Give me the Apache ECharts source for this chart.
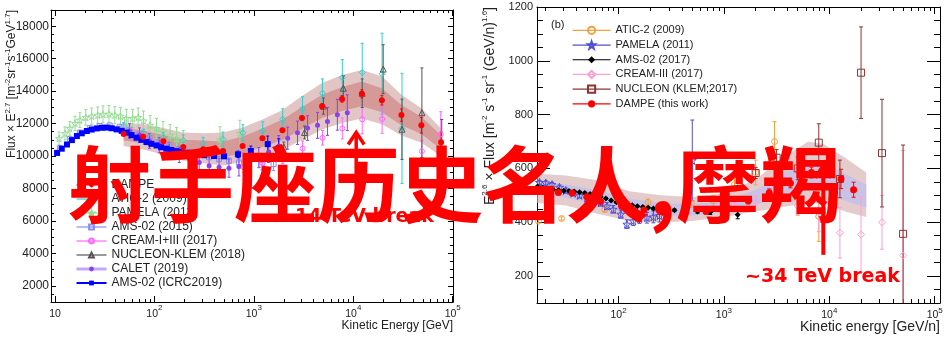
<!DOCTYPE html>
<html>
<head>
<meta charset="utf-8">
<script src="https://cdn.jsdelivr.net/npm/echarts@6/dist/echarts.min.js"></script>
<style>
html, body { margin: 0; padding: 0; background: #fff; }
#chart { width: 951px; height: 352px; }
</style>
</head>
<body>
<div id="chart"></div>
<script>
// ---------- panel (a): proton, Flux x E^2.7, energies in GeV ----------
const pDampeE = [49, 77, 123, 195, 310, 490, 770, 1220, 1940, 3050, 4850, 7710, 12200, 19400, 30500, 48400, 76400];
const pDampeF = [11350, 11180, 10910, 10560, 10420, 10310, 10620, 11100, 11590, 12340, 13060, 13520, 13830, 13440, 12520, 11890, 10850];
const pDampeErr = [40, 40, 40, 40, 50, 60, 70, 90, 110, 130, 160, 200, 250, 300, 380, 480, 620];
const pInnerHi = [11740, 11570, 11300, 11000, 10950, 10900, 11200, 11700, 12250, 13020, 13780, 14260, 14590, 14180, 13150, 12420, 11280];
const pInnerLo = [10950, 10790, 10530, 10150, 10020, 9900, 10180, 10560, 10970, 11660, 12350, 12770, 13070, 12700, 11900, 11350, 10420];
const pOuterHi = [12080, 11960, 11730, 11450, 11400, 11450, 11750, 12250, 12830, 13700, 14500, 15000, 15300, 14910, 13780, 12950, 11700];
const pOuterLo = [10610, 10400, 10090, 9730, 9560, 9420, 9640, 10000, 10380, 10980, 11630, 12030, 12310, 11960, 11270, 10820, 9980];

const pPamE = [11.0, 12.6, 14.1, 15.9, 17.8, 20.4, 23.4, 26.9, 30.4, 34.9, 40.0, 45.5, 52.2, 60.4, 68.7, 77.6, 90.5, 105, 122, 144, 167, 195, 457, 724];
const pPamF = [11080, 11390, 11700, 12010, 12210, 12380, 12460, 12520, 12570, 12590, 12520, 12460, 12320, 12320, 12380, 12170, 11900, 11700, 11490, 11280, 11080, 10870, 11000, 11400];
const pPamErr = [400, 400, 420, 440, 460, 480, 500, 500, 520, 520, 520, 540, 560, 560, 580, 600, 600, 620, 640, 660, 680, 700, 800, 800];

const pAticE = [49, 78, 123, 195, 309, 490, 776, 1230, 1950, 3090, 4900, 7760, 12300, 19500, 30900];
const pAticF = [11850, 11400, 11150, 10950, 10750, 11020, 11430, 11550, 12260, 12900, 13870, 14840, 15150, 15070, 11700];
const pAticErr = [200, 250, 300, 350, 400, 450, 500, 550, 650, 750, 880, 1100, 1800, 2500, 3400];

const pAms15E = [11.2, 14.1, 17.8, 22.4, 28.2, 35.5, 44.7, 56.2, 70.8, 89.1, 112, 141, 178, 224, 282, 355, 447, 562, 708, 891, 1200, 1580];
const pAms15F = [10500, 11050, 11450, 11720, 11850, 11880, 11800, 11620, 11380, 11120, 10880, 10650, 10430, 10250, 10080, 9920, 9800, 9700, 9600, 9480, 9470, 9500];
const pAms15Err = [30, 30, 30, 30, 30, 30, 30, 40, 40, 40, 50, 60, 70, 80, 100, 120, 150, 180, 220, 260, 320, 400];

const pAms19E = [10.5, 11.7, 13.2, 14.8, 16.6, 18.6, 20.9, 23.4, 26.3, 29.5, 33.1, 37.2, 41.7, 46.8, 52.5, 58.9, 66.1, 74.1, 83.2, 93.3, 105, 117, 132, 148, 166, 186, 209, 234, 263, 316, 398, 501, 692, 933, 1380, 1780];
const pAms19F = [10190, 10450, 10710, 10980, 11230, 11400, 11540, 11630, 11700, 11740, 11750, 11710, 11640, 11550, 11440, 11290, 11130, 11000, 10860, 10750, 10650, 10540, 10450, 10370, 10300, 10250, 10200, 10150, 10100, 10050, 10000, 9980, 10100, 10310, 10730, 10460];
const pAms19Err = [20, 20, 20, 20, 20, 20, 20, 20, 20, 20, 20, 20, 20, 20, 20, 20, 20, 20, 20, 20, 20, 20, 25, 25, 30, 30, 35, 40, 50, 60, 80, 120, 200, 300, 500, 600];

const pCaletE = [56.2, 70.8, 89.1, 112, 141, 178, 224, 282, 355, 447, 562, 708, 891, 1120, 1410, 1780, 2190, 2750, 3470, 4370, 5500, 6920, 8710];
const pCaletF = [11540, 11280, 10920, 10660, 10350, 10100, 9850, 9600, 9400, 9300, 9250, 9350, 9500, 9900, 10250, 10600, 11100, 11430, 11720, 11890, 12130, 12540, 12670];
const pCaletErr = [450, 450, 450, 470, 500, 500, 500, 500, 520, 540, 560, 580, 600, 620, 650, 660, 680, 720, 760, 800, 860, 950, 1100];

const pCreamE = [794, 1230, 1950, 3090, 4900, 7760, 12300, 19500, 49000, 75900];
const pCreamF = [9300, 9550, 9950, 10460, 11120, 11700, 12260, 12280, 10290, 11330];
const pCreamErr = [300, 350, 420, 470, 450, 650, 900, 880, 680, 1400];

const pNucE = [2000, 3240, 5010, 7940, 12300, 20000, 30900, 49000, 77600];
const pNucF = [10560, 11450, 13080, 14180, 13870, 15360, 11650, 12670, 10450];
const pNucErr = [300, 400, 500, 780, 880, 1500, 1860, 2760, 1800];

const pBreakE = 10700;
const pArrowF = [7300, 11450];

// ---------- panel (b): helium, E^2.6 x Flux, energies in GeV/n ----------
const heAmsE = [17.0, 19.1, 21.4, 24.0, 26.9, 30.2, 33.9, 38.0, 42.7, 47.9, 53.7, 60.3, 67.6, 75.9, 85.1, 95.5, 107, 120, 135, 151, 170, 191, 214, 240, 269, 339, 427, 562, 741, 1000, 1350];
const heAmsF = [533, 528, 524, 521, 519, 517, 516, 514, 512, 509, 505, 500, 495, 488, 481, 474, 469, 466, 463, 460, 457, 454, 451, 448, 447, 445, 442, 440, 437, 434, 428];
const heAmsErr = [3, 3, 3, 3, 3, 3, 3, 3, 3, 3, 3, 3, 3, 3, 3, 3, 3, 3, 3, 3, 3, 3, 3, 3, 3, 4, 5, 6, 8, 10, 15];

const heDampeE = [26.9, 36.3, 50.1, 67.6, 107, 174, 275, 427, 676, 1070, 1700, 2690, 4270, 6760, 9330, 12900, 17000];
const heDampeF = [511, 509, 495, 477, 460, 446, 440, 436, 440, 455, 480, 510, 545, 585, 600, 561, 521];
const heDampeErr = [4, 4, 4, 5, 5, 6, 7, 8, 9, 10, 12, 14, 17, 20, 30, 36, 28];

const heAticE = [17.4, 28.8, 47.9, 74.1, 120, 191, 295, 490, 794, 1260, 2000, 3020, 5010, 7940];
const heAticF = [404, 414, 430, 447, 463, 474, 453, 472, 480, 540, 585, 700, 509, 422];
const heAticErr = [6, 6, 7, 8, 10, 12, 14, 16, 20, 26, 46, 74, 83, 93];

const hePamE = [17.8, 20.4, 23.4, 27.5, 31.6, 37.2, 42.7, 50.1, 57.5, 67.6, 77.6, 89.1, 105, 120, 138, 158, 186, 214, 245, 282, 501];
const hePamF = [548, 546, 540, 530, 518, 508, 500, 490, 480, 472, 460, 448, 430, 393, 405, 414, 417, 420, 425, 430, 630];
const hePamErr = [8, 8, 8, 8, 9, 9, 10, 10, 11, 12, 13, 14, 15, 16, 17, 18, 20, 22, 24, 26, 150];

const heCreamE = [1260, 2000, 3160, 5010, 7940, 12600, 20000, 31600, 50100];
const heCreamF = [470, 480, 474, 460, 420, 361, 354, 400, 277];
const heCreamErr = [15, 18, 22, 30, 55, 94, 140, 100, 390];

const heNucE = [2000, 3160, 5010, 7940, 12600, 20000, 31600, 50100];
const heNucF = [583, 640, 600, 696, 561, 956, 657, 357];
const heNucErr = [20, 30, 42, 70, 70, 170, 200, 330];

const heBandE = [17.0, 31.6, 63.1, 126, 251, 501, 1000, 2000, 3980, 6310, 8910, 14100, 22400];
const heOuterHi = [580, 574, 556, 515, 500, 494, 507, 560, 650, 700, 690, 640, 585];
const heOuterLo = [472, 462, 432, 405, 399, 405, 420, 440, 460, 470, 470, 440, 420];
const heInnerHi = [548, 540, 520, 488, 472, 468, 480, 520, 590, 625, 620, 580, 540];
const heInnerLo = [505, 492, 465, 430, 422, 425, 440, 465, 500, 520, 515, 480, 455];

const heBreakE = 8770;
const heArrowF = [279, 610];

// tick labels (x in decades, log10 of energy)
const pXMajor = [1, 2, 3, 4, 5];
const heXMajor = [2, 3, 4, 5];
const pYMajor = [2000, 4000, 6000, 8000, 10000, 12000, 14000, 16000, 18000];
const heYMajor = [200, 400, 600, 800, 1000, 1200];

const pLegend = {
  p_dampe: 'DAMPE', p_atic: 'ATIC-2 (2009)', p_pam: 'PAMELA (2011)', p_ams15: 'AMS-02 (2015)',
  p_cream: 'CREAM-I+III (2017)', p_nuc: 'NUCLEON-KLEM (2018)', p_calet: 'CALET (2019)', p_ams19: 'AMS-02 (ICRC2019)'
};
const heLegend = {
  he_atic: 'ATIC-2 (2009)', he_pam: 'PAMELA (2011)', he_ams: 'AMS-02 (2017)',
  he_cream: 'CREAM-III (2017)', he_nuc: 'NUCLEON (KLEM;2017)', he_dampe: 'DAMPE (this work)'
};

const FONT = 'Liberation Sans';
const lg = Math.log10;
const STAR = 'path://M0,-10L2.35,-3.24L9.51,-3.09L3.8,1.24L5.88,8.09L0,4L-5.88,8.09L-3.8,1.24L-9.51,-3.09L-2.35,-3.24Z';
const HOLLOW = 'rgba(0,0,0,0)';

function logMinors(lo, hi) {
  const out = [];
  for (let d = 0; d <= 5; d++) {
    for (let k = 2; k <= 9; k++) {
      const v = d + lg(k);
      if (v > lo && v < hi) out.push(v);
    }
  }
  return out;
}
function linMinors(lo, hi, step, major) {
  const out = [];
  for (let v = lo; v <= hi; v += step) if (v % major !== 0) out.push(v);
  return out;
}

function xAxes(grid, min, max, majors, majorLen, minorLen, label) {
  const minors = logMinors(min, max);
  const lineOn = { show: true, onZero: false, lineStyle: { color: '#000', width: 1 } };
  const lineOff = { show: false, onZero: false };
  const mk = (pos, line, ticks, len, lab) => ({
    type: 'value', gridIndex: grid, position: pos, min: min, max: max,
    axisLine: line, splitLine: { show: false },
    axisTick: { show: true, inside: true, length: len, customValues: ticks, lineStyle: { color: '#000', width: 1 } },
    axisLabel: lab || { show: false }
  });
  return [
    mk('bottom', lineOn, majors, majorLen, label),
    mk('bottom', lineOff, minors, minorLen),
    mk('top', lineOn, majors, majorLen),
    mk('top', lineOff, minors, minorLen)
  ];
}
function yAxes(grid, min, max, majors, minors, majorLen, minorLen, label) {
  const lineOn = { show: true, onZero: false, lineStyle: { color: '#000', width: 1 } };
  const lineOff = { show: false, onZero: false };
  const mk = (pos, line, ticks, len, lab) => ({
    type: 'value', gridIndex: grid, position: pos, min: min, max: max,
    axisLine: line, splitLine: { show: false },
    axisTick: { show: true, inside: true, length: len, customValues: ticks, lineStyle: { color: '#000', width: 1 } },
    axisLabel: lab || { show: false }
  });
  return [
    mk('left', lineOn, majors, majorLen, label),
    mk('left', lineOff, minors, minorLen),
    mk('right', lineOn, majors, majorLen),
    mk('right', lineOff, minors, minorLen)
  ];
}

function decadeLabel(v) {
  const n = Math.round(v);
  return n === 1 ? '10' : '10{s|' + n + '}';
}
function plainLabel(v) {
  return String(Math.round(v));
}

// markers: line series without a visible line, so legend gets line + symbol
function marks(id, grid, E, F, sym, size, color, open) {
  return {
    name: id, type: 'line', xAxisIndex: grid * 4, yAxisIndex: grid * 4,
    data: E.map((e, i) => [lg(e), F[i]]),
    symbol: sym, symbolSize: size, showSymbol: true, showAllSymbol: true,
    lineStyle: { width: 0, color: color },
    itemStyle: open ? { color: HOLLOW, borderColor: color, borderWidth: 1 } : { color: color, borderWidth: 0 },
    z: 3, silent: true, clip: true
  };
}
// vertical error bars with small caps
function bars(grid, E, F, Er, color, cap) {
  return {
    type: 'custom', xAxisIndex: grid * 4, yAxisIndex: grid * 4,
    data: E.map((e, i) => [lg(e), F[i] - Er[i], F[i] + Er[i]]),
    encode: { x: 0, y: [1, 2] },
    renderItem: function (params, api) {
      const lo = api.coord([api.value(0), api.value(1)]);
      const hi = api.coord([api.value(0), api.value(2)]);
      const st = { stroke: color, lineWidth: 1 };
      return {
        type: 'group', children: [
          { type: 'line', shape: { x1: lo[0], y1: lo[1], x2: hi[0], y2: hi[1] }, style: st },
          { type: 'line', shape: { x1: lo[0] - cap, y1: lo[1], x2: lo[0] + cap, y2: lo[1] }, style: st },
          { type: 'line', shape: { x1: hi[0] - cap, y1: hi[1], x2: hi[0] + cap, y2: hi[1] }, style: st }
        ]
      };
    },
    z: 2, silent: true, clip: true
  };
}
function band(grid, E, lo, hi, fill) {
  return {
    type: 'custom', xAxisIndex: grid * 4, yAxisIndex: grid * 4,
    data: [[lg(E[0]), lo[0]]],
    renderItem: function (params, api) {
      const top = E.map((e, i) => api.coord([lg(e), hi[i]]));
      const bot = E.map((e, i) => api.coord([lg(e), lo[i]])).reverse();
      return { type: 'polygon', shape: { points: top.concat(bot) }, style: { fill: fill } };
    },
    z: 1, silent: true, clip: true
  };
}
function arrow(grid, E, F, color, width, head) {
  return {
    type: 'custom', xAxisIndex: grid * 4, yAxisIndex: grid * 4,
    data: [[lg(E), F[1]]],
    renderItem: function (params, api) {
      const a = api.coord([lg(E), F[0]]);
      const b = api.coord([lg(E), F[1]]);
      const st = { stroke: color, lineWidth: width, fill: null };
      return {
        type: 'group', children: [
          { type: 'line', shape: { x1: a[0], y1: a[1], x2: b[0], y2: b[1] + 2 }, style: st },
          { type: 'polyline', shape: { points: [[b[0] - head, b[1] + head * 1.5], [b[0], b[1]], [b[0] + head, b[1] + head * 1.5]] }, style: st }
        ]
      };
    },
    z: 4, silent: true, clip: false
  };
}

const supRich = { s: { fontSize: 8, lineHeight: 8, verticalAlign: 'top', fontFamily: FONT, color: '#222' } };
const supFill = { s: { fontSize: 8, lineHeight: 8, verticalAlign: 'top', fontFamily: FONT, fill: '#222' } };

const chart = echarts.init(document.getElementById('chart'));

const option = {
  animation: false,
  grid: [
    { left: 51, top: 10, width: 402, height: 292 },
    { left: 537, top: 7, width: 403, height: 296 }
  ],
  xAxis: [].concat(
    xAxes(0, 0.96, 5.003, pXMajor, 6, 3, {
      show: true, customValues: pXMajor, margin: 2, fontSize: 10.5, lineHeight: 20,
      fontFamily: FONT, color: '#222', formatter: decadeLabel, rich: supRich
    }),
    xAxes(1, 1.2265, 5.05, heXMajor, 7, 4, {
      show: true, customValues: heXMajor, margin: 4, fontSize: 10.5, lineHeight: 16,
      fontFamily: FONT, color: '#222', formatter: decadeLabel, rich: supRich
    })
  ),
  yAxis: [].concat(
    yAxes(0, 1000, 19000, pYMajor, linMinors(1500, 18500, 500, 2000), 5, 3, {
      show: true, customValues: pYMajor, margin: 2, fontSize: 12, fontFamily: FONT, color: '#222', formatter: plainLabel
    }),
    yAxes(1, 100, 1200, heYMajor, linMinors(150, 1150, 50, 200), 13, 6, {
      show: true, customValues: heYMajor, margin: 4, fontSize: 11, fontFamily: FONT, color: '#222', formatter: plainLabel
    })
  ),
  legend: [
    {
      selectedMode: false, orient: 'vertical', left: 75, top: 179, padding: 0,
      itemWidth: 30, itemHeight: 6, itemGap: 2,
      textStyle: { fontSize: 12, lineHeight: 12, fontFamily: FONT, color: '#222' },
      lineStyle: { width: 1.2, opacity: 1 },
      formatter: n => pLegend[n],
      data: [
        'p_dampe', 'p_atic', 'p_pam', 'p_ams15', 'p_cream', 'p_nuc',
        { name: 'p_calet', lineStyle: { width: 3, color: '#c4a6ff', opacity: 1 } },
        { name: 'p_ams19', lineStyle: { width: 2, color: '#0000ff', opacity: 1 } }
      ]
    },
    {
      selectedMode: false, orient: 'vertical', left: 572, top: 24, padding: 0,
      itemWidth: 38, itemHeight: 9, itemGap: 2,
      textStyle: { fontSize: 11, lineHeight: 12.7, fontFamily: FONT, color: '#222' },
      lineStyle: { width: 1.2, opacity: 1 },
      formatter: n => heLegend[n],
      data: ['he_atic', 'he_pam', 'he_ams', 'he_cream', 'he_nuc', 'he_dampe']
    }
  ],
  series: [
    // panel (a)
    band(0, pDampeE, pOuterLo, pOuterHi, '#e2c6c6'),
    band(0, pDampeE, pInnerLo, pInnerHi, '#d59a98'),
    bars(0, pPamE, pPamF, pPamErr, '#93dc93', 1.5),
    bars(0, pAticE, pAticF, pAticErr, '#33cccc', 1.5),
    bars(0, pAms15E, pAms15F, pAms15Err, '#8a8aff', 1.5),
    bars(0, pCaletE, pCaletF, pCaletErr, '#8a3ff0', 1.5),
    bars(0, pCreamE, pCreamF, pCreamErr, '#ff66ff', 1.5),
    bars(0, pNucE, pNucF, pNucErr, '#555555', 1.5),
    bars(0, pAms19E, pAms19F, pAms19Err, '#0000ff', 1.5),
    bars(0, pDampeE, pDampeF, pDampeErr, '#ff0000', 1.5),
    marks('p_pam', 0, pPamE, pPamF, STAR, 7, '#93dc93', true),
    marks('p_atic', 0, pAticE, pAticF, 'diamond', 6, '#33cccc', true),
    marks('p_ams15', 0, pAms15E, pAms15F, 'rect', 5, '#8a8aff', true),
    marks('p_calet', 0, pCaletE, pCaletF, 'circle', 5, '#8a3ff0', false),
    marks('p_cream', 0, pCreamE, pCreamF, 'circle', 5, '#ff66ff', true),
    marks('p_nuc', 0, pNucE, pNucF, 'triangle', 6, '#555555', true),
    marks('p_ams19', 0, pAms19E, pAms19F, 'rect', 6, '#0000ff', false),
    marks('p_dampe', 0, pDampeE, pDampeF, 'circle', 6, '#ff0000', false),
    arrow(0, pBreakE, pArrowF, '#ff0000', 3.5, 8),
    // panel (b)
    band(1, heBandE, heOuterLo, heOuterHi, '#e4cccd'),
    band(1, heBandE, heInnerLo, heInnerHi, '#c9c2e4'),
    bars(1, heAticE, heAticF, heAticErr, '#f5a040', 2),
    bars(1, hePamE, hePamF, hePamErr, '#5050d0', 2),
    bars(1, heAmsE, heAmsF, heAmsErr, '#000000', 2),
    bars(1, heCreamE, heCreamF, heCreamErr, '#ff9fcf', 2),
    bars(1, heNucE, heNucF, heNucErr, '#8b3333', 2),
    bars(1, heDampeE, heDampeF, heDampeErr, '#ff0000', 2),
    marks('he_atic', 1, heAticE, heAticF, 'circle', 6, '#f5a040', true),
    marks('he_pam', 1, hePamE, hePamF, STAR, 8, '#5050d0', true),
    marks('he_ams', 1, heAmsE, heAmsF, 'diamond', 6, '#000000', false),
    marks('he_cream', 1, heCreamE, heCreamF, 'diamond', 7, '#ff9fcf', true),
    marks('he_nuc', 1, heNucE, heNucF, 'rect', 7, '#8b3333', true),
    marks('he_dampe', 1, heDampeE, heDampeF, 'circle', 7, '#ff0000', false),
    arrow(1, heBreakE, heArrowF, '#ff0000', 4, 8)
  ],
  graphic: [
    {
      type: 'text', x: 12, y: 10, rotation: Math.PI / 2, z: 50,
      style: {
        text: 'Flux × E{s|2.7} [m{s|-2}sr{s|-1}s{s|-1}GeV{s|1.7}]', fontSize: 12, lineHeight: 16,
        fontFamily: FONT, fill: '#222', align: 'right', verticalAlign: 'middle', rich: supFill
      }
    },
    {
      type: 'text', x: 490, y: 7, rotation: Math.PI / 2, z: 50,
      style: {
        text: 'E{s|2.6} × Flux [m{s|-2} s{s|-1} sr{s|-1} (GeV/n){s|1.6}]', fontSize: 14, lineHeight: 18,
        fontFamily: FONT, fill: '#222', align: 'right', verticalAlign: 'middle', rich: supFill
      }
    },
    {
      type: 'text', x: 453, y: 326, z: 50,
      style: { text: 'Kinetic Energy [GeV]', fontSize: 12, fontFamily: FONT, fill: '#222', align: 'right', verticalAlign: 'middle' }
    },
    {
      type: 'text', x: 940, y: 327, z: 50,
      style: { text: 'Kinetic energy [GeV/n]', fontSize: 14, fontFamily: FONT, fill: '#222', align: 'right', verticalAlign: 'middle' }
    },
    {
      type: 'text', x: 551, y: 25, z: 50,
      style: { text: '(b)', fontSize: 11, fontFamily: FONT, fill: '#222', align: 'left', verticalAlign: 'middle' }
    },
    {
      type: 'text', x: 279, y: 217, z: 60,
      style: { text: '~14 TeV break', fontSize: 19, fontWeight: 'bold', fontFamily: 'DejaVu Sans', fill: '#ff0000', align: 'left', verticalAlign: 'middle' }
    },
    {
      type: 'text', x: 745, y: 277, z: 60,
      style: { text: '~34 TeV break', fontSize: 19, fontWeight: 'bold', fontFamily: 'DejaVu Sans', fill: '#ff0000', align: 'left', verticalAlign: 'middle' }
    },
    {
      type: 'text', x: 68, y: 184, z: 100,
      style: { text: '射手座历史名人,摩羯', fontSize: 83, fontWeight: 'bold', fontFamily: 'Noto Sans CJK SC', fill: '#ff0000', align: 'left', verticalAlign: 'middle' }
    }
  ]
};

chart.setOption(option);
</script>
</body>
</html>
